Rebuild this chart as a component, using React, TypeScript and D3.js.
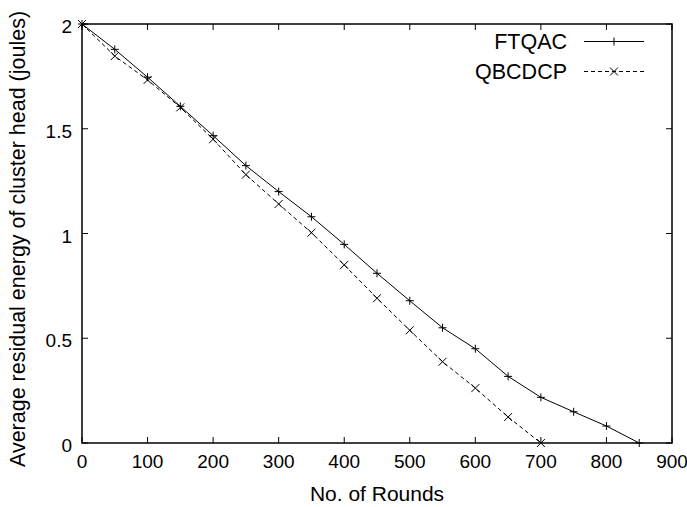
import React from "react";
import * as d3 from "d3";

const rounds = [0, 50, 100, 150, 200, 250, 300, 350, 400, 450, 500, 550, 600, 650, 700, 750, 800, 850];
const ftqac = [2.0, 1.879, 1.746, 1.607, 1.467, 1.324, 1.2, 1.08, 0.948, 0.81, 0.679, 0.55, 0.45, 0.318, 0.218, 0.149, 0.081, 0.0];
const qbcdcpRounds = [0, 50, 100, 150, 200, 250, 300, 350, 400, 450, 500, 550, 600, 650, 700];
const qbcdcp = [2.0, 1.847, 1.733, 1.602, 1.45, 1.281, 1.141, 1.004, 0.85, 0.691, 0.538, 0.388, 0.262, 0.124, 0.0];
const xTicks = [0, 100, 200, 300, 400, 500, 600, 700, 800, 900];
const yTicks = [0, 0.5, 1, 1.5, 2];
const seriesNames = ["FTQAC", "QBCDCP"];

const W = 687, H = 507;
const L = 82, R = 672, T = 24, B = 443;
const FONT = "'Liberation Sans', Arial, sans-serif";

export default function App() {
  const x = d3.scaleLinear().domain([0, 900]).range([L, R]);
  const y = d3.scaleLinear().domain([0, 2]).range([B, T]);
  const line = d3.line<[number, number]>().x(d => x(d[0])).y(d => y(d[1]));
  const d1 = line(rounds.map((r, i) => [r, ftqac[i]] as [number, number])) || "";
  const d2 = line(qbcdcpRounds.map((r, i) => [r, qbcdcp[i]] as [number, number])) || "";
  const tk = 6;
  const m = 4;
  const plus = (cx: number, cy: number, k: string) => (
    <path key={k} d={`M${cx - m},${cy}H${cx + m}M${cx},${cy - m}V${cy + m}`} stroke="#000" strokeWidth={1} />
  );
  const cross = (cx: number, cy: number, k: string) => (
    <path key={k} d={`M${cx - m},${cy - m}L${cx + m},${cy + m}M${cx - m},${cy + m}L${cx + m},${cy - m}`} stroke="#000" strokeWidth={1} />
  );
  return (
    <svg width={W} height={H} style={{ position: "absolute", left: 0, top: 0, background: "#fff" }} fontFamily={FONT}>
      <rect x={0} y={0} width={W} height={H} fill="#fff" />
      {xTicks.map(t => (
        <g key={"x" + t}>
          <line x1={x(t)} x2={x(t)} y1={B} y2={B - tk} stroke="#000" strokeWidth={1} />
          <line x1={x(t)} x2={x(t)} y1={T} y2={T + tk} stroke="#000" strokeWidth={1} />
          <text x={x(t)} y={468} textAnchor="middle" fontSize={19}>{t}</text>
        </g>
      ))}
      {yTicks.map(t => (
        <g key={"y" + t}>
          <line x1={L} x2={L + tk} y1={y(t)} y2={y(t)} stroke="#000" strokeWidth={1} />
          <line x1={R} x2={R - tk} y1={y(t)} y2={y(t)} stroke="#000" strokeWidth={1} />
          <text x={72} y={y(t) + 9} textAnchor="end" fontSize={19}>{t}</text>
        </g>
      ))}
      <path d={d1} fill="none" stroke="#000" strokeWidth={1} />
      <path d={d2} fill="none" stroke="#000" strokeWidth={1} strokeDasharray="4,3" />
      {rounds.map((r, i) => plus(x(r), y(ftqac[i]), "p" + i))}
      {qbcdcpRounds.map((r, i) => cross(x(r), y(qbcdcp[i]), "c" + i))}
      <rect x={L} y={T} width={R - L} height={B - T} fill="none" stroke="#000" strokeWidth={1.5} />
      <text x={567} y={49} textAnchor="end" fontSize={21.5}>{seriesNames[0]}</text>
      <line x1={584} x2={644} y1={41.5} y2={41.5} stroke="#000" strokeWidth={1} />
      {plus(614, 41.5, "lp")}
      <text x={567} y={79} textAnchor="end" fontSize={21.5}>{seriesNames[1]}</text>
      <line x1={584} x2={644} y1={71.5} y2={71.5} stroke="#000" strokeWidth={1} strokeDasharray="4,3" />
      {cross(614, 71.5, "lc")}
      <text x={(L + R) / 2} y={501} textAnchor="middle" fontSize={21}>No. of Rounds</text>
      <text transform={`translate(25,239) rotate(-90)`} textAnchor="middle" fontSize={21.5}>
        Average residual energy of cluster head (joules)
      </text>
    </svg>
  );
}
